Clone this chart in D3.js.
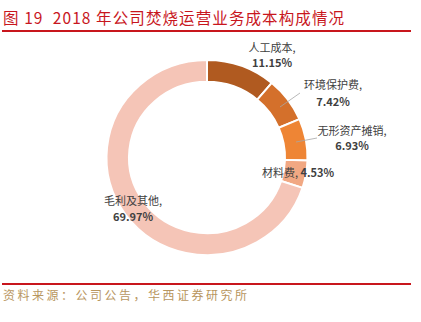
<!DOCTYPE html>
<html><head><meta charset="utf-8">
<script src="https://cdn.jsdelivr.net/npm/d3@7"></script>
<style>body{margin:0;background:#fff}svg{display:block}</style>
</head><body>
<script>
const categories = ["人工成本", "环境保护费", "无形资产摊销", "材料费", "毛利及其他"];
const values = [11.15, 7.42, 6.93, 4.53, 69.97];
const labels = ["11.15%", "7.42%", "6.93%", "4.53%", "69.97%"];
const colors = ["#B05A20", "#D4702B", "#EE8535", "#F1A883", "#F5C5B7"];
const title = "图 19  2018 年公司焚烧运营业务成本构成情况";
const source = "资料来源：公司公告，华西证券研究所";

const W = 421, H = 322;
const svg = d3.select("body").append("svg").attr("width", W).attr("height", H);
const font = "'Noto Sans CJK SC','Noto Sans',sans-serif";

svg.append("text").attr("x", 3).attr("y", 24).attr("fill", "#C8161D")
  .attr("font-family", font).attr("font-size", 15.5).attr("letter-spacing", 1.1)
  .attr("xml:space", "preserve").style("white-space", "pre").text(title);
svg.append("rect").attr("x", 2).attr("y", 30).attr("width", 409).attr("height", 2).attr("fill", "#C8161D");
svg.append("rect").attr("x", 2).attr("y", 283).attr("width", 409).attr("height", 2).attr("fill", "#C8161D");
svg.append("text").attr("x", 3).attr("y", 300).attr("fill", "#B8965E")
  .attr("font-family", font).attr("font-size", 12).attr("letter-spacing", 2.5).text(source);

const cx = 207, cy = 157.5;
const pie = d3.pie().sort(null).value(d => d)(values);
const arc = d3.arc().innerRadius(78).outerRadius(100.5);
const g = svg.append("g").attr("transform", `translate(${cx},${cy}) scale(1,0.97)`);
g.selectAll("path").data(pie).enter().append("path")
  .attr("d", arc).attr("fill", (d, i) => colors[i])
  .attr("stroke", "#fff").attr("stroke-width", 2);

svg.append("line").attr("x1", 300).attr("y1", 93).attr("x2", 280).attr("y2", 107).attr("stroke", "#A6A6A6").attr("stroke-width", 0.8);
svg.append("line").attr("x1", 317).attr("y1", 138).attr("x2", 296).attr("y2", 142).attr("stroke", "#A6A6A6").attr("stroke-width", 0.8);

const lab = svg.append("g").attr("font-family", font).attr("font-size", 11).attr("fill", "#404040");
function two(x, y1, y2, name, val, anchor) {
  lab.append("text").attr("x", x).attr("y", y1).attr("text-anchor", anchor).text(name + ",");
  lab.append("text").attr("x", x).attr("y", y2).attr("text-anchor", anchor).attr("font-weight", "bold").text(val);
}
two(272, 52, 67, categories[0], labels[0], "middle");
two(333, 89, 106, categories[1], labels[1], "middle");
two(352, 135, 150, categories[2], labels[2], "middle");
lab.append("text").attr("x", 262).attr("y", 177).text(categories[3] + ", ")
  .append("tspan").attr("font-weight", "bold").text(labels[3]);
two(133, 205, 221, categories[4], labels[4], "middle");
</script>
</body></html>
